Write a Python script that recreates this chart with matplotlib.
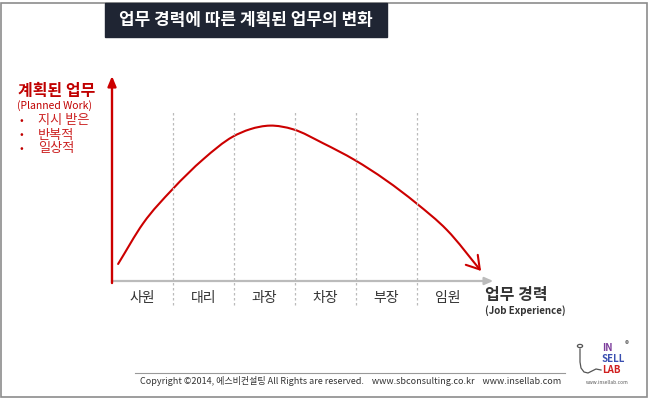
import matplotlib.pyplot as plt
from matplotlib.path import Path
from matplotlib.patches import FancyArrowPatch, Rectangle, Circle
import numpy as np

plt.rcParams['font.family'] = ['Noto Sans CJK KR', 'DejaVu Sans']

title = '업무 경력에 따른 계획된 업무의 변화'
positions = ['사원', '대리', '과장', '차장', '부장', '임원']
bullets = ['지시 받은', '반복적', '일상적']

# planned work level (0-100) against job experience (category units)
exp_x = [0.10, 0.51, 0.99, 1.50, 1.98, 2.26, 2.59, 2.97, 3.46, 3.98, 4.99, 5.49, 6.05]
work_y = [8.3, 28.1, 44.7, 59.5, 70.4, 74.0, 75.8, 74.0, 67.2, 59.0, 37.9, 24.9, 4.9]

red = '#cc0000'
grey = '#bbbbbb'

fig = plt.figure(figsize=(6.5, 3.99), dpi=100)
fig.patches.append(Rectangle((0.002, 0.006), 0.994, 0.986, transform=fig.transFigure,
                             fill=False, ec='#8c8c8c', lw=1.2))

ax = fig.add_axes([112 / 650, 1 - 281 / 399, 396.5 / 650, 205 / 399])
ax.set_xlim(0, 6.5)
ax.set_ylim(0, 100)
ax.axis('off')

# dashed separators
for i in range(1, len(positions)):
    ax.plot([i, i], [-11.7, 82.4], ls=(0, (2, 2)), color=grey, lw=0.9, clip_on=False)

# axes arrows
ax.annotate('', xy=(6.25, 0), xytext=(0, 0),
            arrowprops=dict(arrowstyle='-|>,head_length=0.5,head_width=0.22', color=grey, lw=1.6,
                            shrinkA=0, shrinkB=0), annotation_clip=False)
ax.annotate('', xy=(0, 100), xytext=(0, -1),
            arrowprops=dict(arrowstyle='-|>,head_length=0.6,head_width=0.25', color=red, lw=1.7,
                            shrinkA=0, shrinkB=0), annotation_clip=False)

# smooth curve through the read points (cubic Hermite in x -> Bezier segments)
x = np.array(exp_x)
y = np.array(work_y)
m = np.gradient(y, x)
verts = [(x[0], y[0])]
codes = [Path.MOVETO]
for i in range(len(x) - 1):
    dx = (x[i + 1] - x[i]) / 3
    verts += [(x[i] + dx, y[i] + m[i] * dx), (x[i + 1] - dx, y[i + 1] - m[i + 1] * dx),
              (x[i + 1], y[i + 1])]
    codes += [Path.CURVE4] * 3
curve = FancyArrowPatch(path=Path(verts, codes), arrowstyle='->,head_length=4.5,head_width=2.8',
                        color=red, lw=1.5, transform=ax.transData, mutation_scale=2)
ax.add_patch(curve)

for i, p in enumerate(positions):
    ax.text(i + 0.5, -8.3, p, ha='center', va='center', fontsize=10, color='#333333')

# x label
fig.text(485 / 650, 1 - 295 / 399, '업무 경력', ha='left', va='center', fontsize=11.5,
         fontweight='bold', color='#333333')
fig.text(485 / 650, 1 - 311 / 399, '(Job Experience)', ha='left', va='center', fontsize=7,
         fontweight='bold', color='#333333')

# y label
fig.text(18 / 650, 1 - 91 / 399, '계획된 업무', ha='left', va='center', fontsize=11.5,
         fontweight='bold', color='#c00000')
fig.text(17 / 650, 1 - 106 / 399, '(Planned Work)', ha='left', va='center', fontsize=7.5,
         color='#c00000')
for k, b in enumerate(bullets):
    yy = 1 - (121 + 14 * k) / 399
    fig.text(19 / 650, yy, '•', ha='left', va='center', fontsize=8, color='#c00000')
    fig.text(38 / 650, yy, b, ha='left', va='center', fontsize=9.5, color='#cc2222')

# title box
fig.patches.append(Rectangle((105 / 650, 1 - 37 / 399), 282 / 650, 34 / 399,
                             transform=fig.transFigure, color='#1f2533'))
fig.text(246 / 650, 1 - 20 / 399, title, ha='center', va='center', fontsize=12.2,
         fontweight='bold', color='white')

# footer
fig.add_artist(plt.Line2D([135 / 650, 565 / 650], [1 - 373 / 399] * 2, color='#999999', lw=0.8))
fig.text(351 / 650, 1 - 381 / 399,
         'Copyright ©2014, 에스비컨설팅 All Rights are reserved.    www.sbconsulting.co.kr    www.insellab.com',
         ha='center', va='center', fontsize=6.5, color='#333333')

# logo
fig.patches.append(Circle((580 / 650, 1 - 346 / 399), 0.004, transform=fig.transFigure,
                          fill=False, ec='#555555', lw=0.9))
hook_x = [580, 580, 581, 584, 588, 592, 596, 601]
hook_y = [349, 362, 368, 372, 373, 371, 369, 370]
fig.add_artist(plt.Line2D([v / 650 for v in hook_x], [1 - v / 399 for v in hook_y],
                          color='#555555', lw=0.9))
logo_y = [348, 359, 370]
for word, col, yy in zip(['IN', 'SELL', 'LAB'], ['#7a3a9a', '#3a4fb0', '#d02020'], logo_y):
    fig.text(602 / 650, 1 - yy / 399, word, ha='left', va='center', fontsize=7,
             fontweight='bold', color=col)
fig.text(627 / 650, 1 - 345 / 399, '®', ha='center', va='center', fontsize=6, color='#555555')
fig.text(607 / 650, 1 - 382 / 399, 'www.insellab.com', ha='center', va='center', fontsize=3.5,
         color='#555555')

fig.savefig('out.png', dpi=100)
